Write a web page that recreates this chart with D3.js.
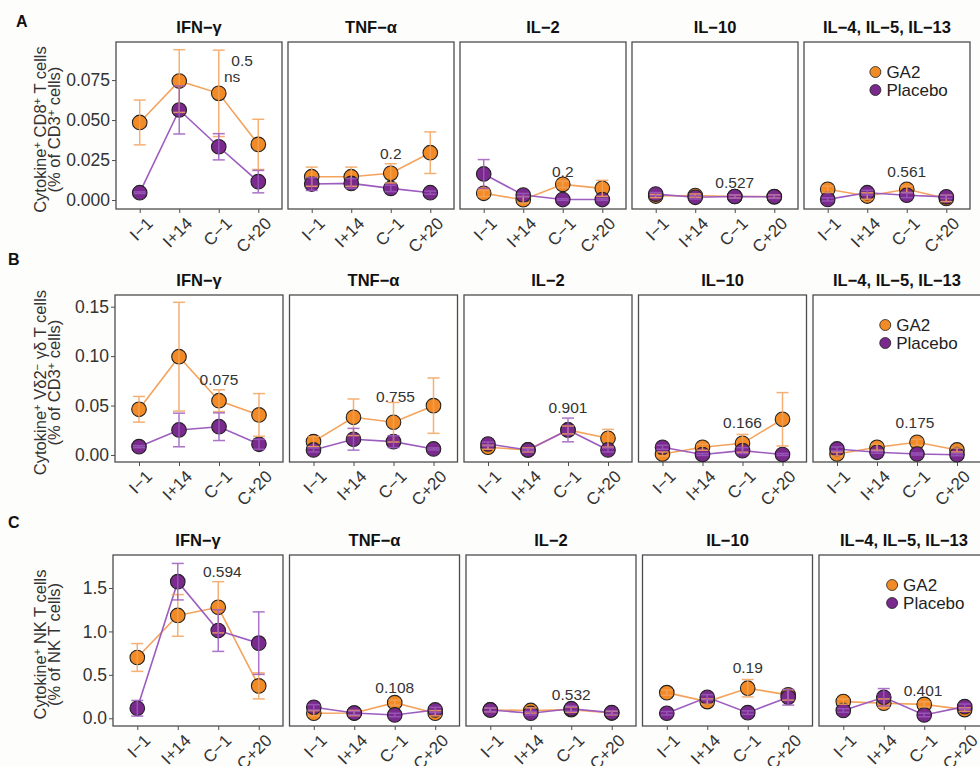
<!DOCTYPE html>
<html>
<head>
<meta charset="utf-8">
<script src="https://cdn.jsdelivr.net/npm/d3@7"></script>
<style>
  body { margin: 0; background: #fdfdfc; }
  text { font-family: "Liberation Sans", Arial, sans-serif; }
</style>
</head>
<body>
<svg id="fig" width="980" height="766"></svg>
<script>
const timepoints = ["I\u22121", "I+14", "C\u22121", "C+20"];
const cytokines = ["IFN\u2212\u03b3", "TNF\u2212\u03b1", "IL\u22122", "IL\u221210", "IL\u22124, IL\u22125, IL\u221213"];
const groups = ["GA2", "Placebo"];

// A: CD8+ T cells (one row per cytokine, one value per timepoint)
const cd8GA2 = [[0.0485, 0.0744, 0.0667, 0.0348], [0.0146, 0.0146, 0.0167, 0.0296], [0.0042, 0.0002, 0.0098, 0.0073], [0.0025, 0.0028, 0.0022, 0.0022], [0.0067, 0.0025, 0.0067, 0.0010]];
const cd8GA2Se = [[0.014, 0.0196, 0.027, 0.0157], [0.006, 0.006, 0.006, 0.013], [0.002, 0.002, 0.002, 0.005], [0.001, 0.001, 0.001, 0.001], [0.002, 0.002, 0.002, 0.002]];
const cd8Placebo = [[0.0046, 0.0563, 0.0333, 0.0115], [0.0100, 0.0104, 0.0073, 0.0046], [0.0163, 0.0031, 0.0003, 0.0003], [0.0037, 0.0017, 0.0022, 0.0020], [0.0004, 0.0046, 0.0030, 0.0020]];
const cd8PlaceboSe = [[0.0005, 0.015, 0.0082, 0.007], [0.004, 0.003, 0.002, 0.001], [0.009, 0.001, 0.0005, 0.0005], [0.001, 0.001, 0.001, 0.001], [0.001, 0.0015, 0.0015, 0.001]];
const cd8P = ["0.5", "0.2", "0.2", "0.527", "0.561"];
const cd8PAt = [2.59, 2, 2, 2, 2];
const cd8PY = [0.0875, 0.029, 0.018, 0.011, 0.0175];
const cd8Ticks = [0, 0.025, 0.05, 0.075];

// B: Vd2- gd T cells
const vd2GA2 = [[0.0462, 0.0994, 0.0549, 0.0405], [0.0135, 0.0381, 0.0331, 0.0499], [0.0078, 0.0051, 0.0253, 0.0169], [0.0010, 0.0078, 0.0118, 0.0361], [0.0010, 0.0078, 0.0128, 0.0051]];
const vd2GA2Se = [[0.013, 0.055, 0.011, 0.0216], [0.005, 0.0185, 0.020, 0.028], [0.002, 0.002, 0.004, 0.009], [0.002, 0.003, 0.009, 0.027], [0.002, 0.003, 0.003, 0.002]];
const vd2Placebo = [[0.0084, 0.0253, 0.0286, 0.0108], [0.0051, 0.0159, 0.0135, 0.0061], [0.0111, 0.0051, 0.0253, 0.0051], [0.0078, 0.0005, 0.0044, 0.0005], [0.0061, 0.0027, 0.0010, 0.0003]];
const vd2PlaceboSe = [[0.001, 0.017, 0.014, 0.005], [0.002, 0.011, 0.006, 0.001], [0.002, 0.001, 0.012, 0.002], [0.002, 0.001, 0.003, 0.001], [0.002, 0.001, 0.001, 0.001]];
const vd2P = ["0.075", "0.755", "0.901", "0.166", "0.175"];
const vd2PAt = [2, 2.05, 2, 2, 1.95];
const vd2PY = [0.0759, 0.0587, 0.0475, 0.0324, 0.0324];
const vd2Ticks = [0, 0.05, 0.10, 0.15];

// C: NK T cells
const nktGA2 = [[0.70, 1.184, 1.278, 0.373], [0.058, 0.060, 0.180, 0.058], [0.096, 0.090, 0.100, 0.060], [0.295, 0.192, 0.346, 0.269], [0.192, 0.173, 0.160, 0.100]];
const nktGA2Se = [[0.16, 0.24, 0.295, 0.15], [0.03, 0.03, 0.03, 0.03], [0.02, 0.03, 0.03, 0.02], [0.03, 0.03, 0.10, 0.06], [0.03, 0.05, 0.03, 0.02]];
const nktPlacebo = [[0.115, 1.573, 1.01, 0.865], [0.127, 0.060, 0.038, 0.096], [0.096, 0.058, 0.110, 0.065], [0.058, 0.242, 0.065, 0.242], [0.090, 0.242, 0.038, 0.134]];
const nktPlaceboSe = [[0.09, 0.21, 0.24, 0.36], [0.03, 0.02, 0.02, 0.03], [0.02, 0.02, 0.03, 0.02], [0.02, 0.03, 0.02, 0.09], [0.02, 0.10, 0.02, 0.03]];
const nktP = ["0.594", "0.108", "0.532", "0.19", "0.401"];
const nktPAt = [2.1, 2, 2, 2, 1.97];
const nktPY = [1.688, 0.35, 0.27, 0.58, 0.32];
const nktTicks = [0, 0.5, 1.0, 1.5];

const fillCol = { GA2: "#f28a26", Placebo: "#7a2a8c" };
const lineCol = { GA2: "#f4a35c", Placebo: "#9d5cbf" };

const svg = d3.select("#fig");

const rows = [
  { letter: "A", lx: 16, ly: 27, left: 116, step: 172, w: 166, top: 42, h: 167,
    domain: [-0.0056, 0.0988], ticks: cd8Ticks, fmt: ".3f",
    ytitle: ["Cytokine^+ CD8^+ T cells", "(% of CD3^+ cells)"],
    ga2: cd8GA2, ga2Se: cd8GA2Se, pla: cd8Placebo, plaSe: cd8PlaceboSe, p: cd8P, pAt: cd8PAt, pY: cd8PY },
  { letter: "B", lx: 8, ly: 265, left: 115, step: 174.5, w: 168, top: 295, h: 167,
    domain: [-0.0071, 0.1618], ticks: vd2Ticks, fmt: ".2f",
    ytitle: ["Cytokine^+ V\u03b42^\u2212 \u03b3\u03b4 T cells", "(% of CD3^+ cells)"],
    ga2: vd2GA2, ga2Se: vd2GA2Se, pla: vd2Placebo, plaSe: vd2PlaceboSe, p: vd2P, pAt: vd2PAt, pY: vd2PY },
  { letter: "C", lx: 8, ly: 528, left: 113, step: 176.5, w: 170, top: 555, h: 171,
    domain: [-0.089, 1.88], ticks: nktTicks, fmt: ".1f",
    ytitle: ["Cytokine^+ NK T cells", "(% of NK T cells)"],
    ga2: nktGA2, ga2Se: nktGA2Se, pla: nktPlacebo, plaSe: nktPlaceboSe, p: nktP, pAt: nktPAt, pY: nktPY }
];

// writes "a^+ b" as text with small raised "+"
function richText(sel, str) {
  const parts = str.split(/(\^.)/).filter(s => s.length);
  let raised = false;
  parts.forEach(s => {
    if (s[0] === "^") {
      sel.append("tspan").attr("dy", -5).attr("font-size", "68%").text(s[1]);
      raised = true;
    } else {
      sel.append("tspan").attr("dy", raised ? 5 : 0).text(s);
      raised = false;
    }
  });
}

rows.forEach(row => {
  svg.append("text")
    .attr("x", row.lx).attr("y", row.ly)
    .attr("font-size", 16).attr("font-weight", "bold").attr("fill", "#111")
    .text(row.letter);

  const yt = svg.append("g")
    .attr("transform", `translate(0,${row.top + row.h / 2 + 4}) rotate(-90)`);
  row.ytitle.forEach((line, k) => {
    const t = yt.append("text")
      .attr("x", 0).attr("y", 46 + k * 13.5)
      .attr("text-anchor", "middle")
      .attr("font-size", 16.5).attr("fill", "#333");
    richText(t, line);
  });

  cytokines.forEach((cy, i) => {
    const g = svg.append("g")
      .attr("transform", `translate(${row.left + i * row.step},${row.top})`);
    const x = d3.scalePoint().domain(timepoints).range([0, row.w]).padding(0.6);
    const xi = d3.scaleLinear().domain([0, 3]).range([x(timepoints[0]), x(timepoints[3])]);
    const y = d3.scaleLinear().domain(row.domain).range([row.h, 0]);

    g.append("rect")
      .attr("width", row.w).attr("height", row.h)
      .attr("fill", "#fff").attr("stroke", "#4d4d4d").attr("stroke-width", 1.3);

    g.append("text")
      .attr("x", row.w / 2).attr("y", -9)
      .attr("text-anchor", "middle")
      .attr("font-size", 16.5).attr("font-weight", "bold").attr("fill", "#111")
      .text(cy);

    if (i === 0) {
      const ya = g.append("g")
        .call(d3.axisLeft(y).tickValues(row.ticks).tickFormat(d3.format(row.fmt)).tickSize(4).tickPadding(2));
      ya.select(".domain").remove();
      ya.selectAll("line").attr("stroke", "#4d4d4d");
      ya.selectAll("text").attr("font-size", 17.5).attr("fill", "#333")
        .style("font-family", "Liberation Sans, Arial, sans-serif");
    }

    const xa = g.append("g")
      .attr("transform", `translate(0,${row.h})`)
      .call(d3.axisBottom(x).tickSize(4).tickPadding(0));
    xa.select(".domain").remove();
    xa.selectAll("line").attr("stroke", "#4d4d4d");
    xa.selectAll("text")
      .attr("font-size", 17).attr("fill", "#333")
      .style("font-family", "Liberation Sans, Arial, sans-serif")
      .attr("text-anchor", "end")
      .attr("x", 0).attr("y", 0).attr("dy", "0.72em")
      .attr("transform", "translate(5,7) rotate(-45)");

    const series = [
      { name: "GA2", m: row.ga2[i], se: row.ga2Se[i] },
      { name: "Placebo", m: row.pla[i], se: row.plaSe[i] }
    ];

    const line = d3.line()
      .x((d, j) => x(timepoints[j]))
      .y(d => y(d));
    series.forEach(s => {
      g.append("path")
        .datum(s.m)
        .attr("d", line)
        .attr("fill", "none")
        .attr("stroke", lineCol[s.name])
        .attr("stroke-width", 1.6);
    });

    series.forEach(s => {
      g.selectAll(null)
        .data(s.m)
        .join("circle")
        .attr("cx", (d, j) => x(timepoints[j]))
        .attr("cy", d => y(d))
        .attr("r", 7.3)
        .attr("fill", fillCol[s.name])
        .attr("stroke", "#222")
        .attr("stroke-width", 1.1);
    });

    series.forEach(s => {
      const eb = g.append("g")
        .attr("stroke", lineCol[s.name])
        .attr("stroke-width", 1.5)
        .attr("opacity", 0.85);
      s.m.forEach((d, j) => {
        const cx = x(timepoints[j]);
        const lo = y(d - s.se[j]), hi = y(d + s.se[j]);
        eb.append("line").attr("x1", cx).attr("x2", cx).attr("y1", lo).attr("y2", hi);
        eb.append("line").attr("x1", cx - 6).attr("x2", cx + 6).attr("y1", lo).attr("y2", lo);
        eb.append("line").attr("x1", cx - 6).attr("x2", cx + 6).attr("y1", hi).attr("y2", hi);
      });
    });

    g.append("text")
      .attr("x", xi(row.pAt[i])).attr("y", y(row.pY[i]))
      .attr("dy", "0.35em")
      .attr("text-anchor", "middle")
      .attr("font-size", 15.5).attr("fill", "#333")
      .text(row.p[i]);

    if (row.letter === "A" && i === 0) {
      g.append("text")
        .attr("x", xi(2.34)).attr("y", y(0.077))
        .attr("dy", "0.35em")
        .attr("text-anchor", "middle")
        .attr("font-size", 15.5).attr("fill", "#333")
        .text("ns");
    }

    if (i === 4) {
      groups.forEach((name, k) => {
        g.append("circle")
          .attr("cx", row.w * 0.43).attr("cy", 30 + k * 18)
          .attr("r", 5.5)
          .attr("fill", fillCol[name]).attr("stroke", "#222").attr("stroke-width", 0.8);
        g.append("text")
          .attr("x", row.w * 0.43 + 11).attr("y", 30 + k * 18)
          .attr("dy", "0.36em")
          .attr("font-size", 17).attr("fill", "#222")
          .text(name);
      });
    }
  });
});
</script>
</body>
</html>
